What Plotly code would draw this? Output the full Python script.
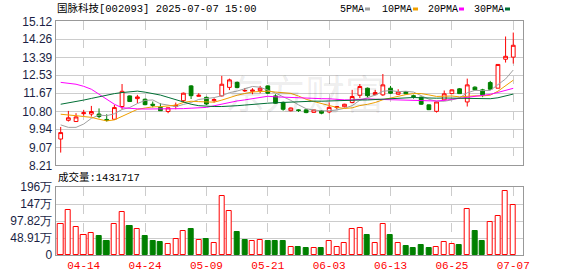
import plotly.graph_objects as go

# ---------------- data ----------------
dates = ["04-09", "04-10", "04-11", "04-14", "04-15", "04-16", "04-17", "04-18", "04-21", "04-22",
         "04-23", "04-24", "04-25", "04-28", "04-29", "04-30", "05-06", "05-07", "05-08", "05-09",
         "05-12", "05-13", "05-14", "05-15", "05-16", "05-19", "05-20", "05-21", "05-22", "05-23",
         "05-26", "05-27", "05-28", "05-29", "05-30", "06-03", "06-04", "06-05", "06-06", "06-09",
         "06-10", "06-11", "06-12", "06-13", "06-16", "06-17", "06-18", "06-19", "06-20", "06-23",
         "06-24", "06-25", "06-26", "06-27", "06-30", "07-01", "07-02", "07-03", "07-04", "07-07"]

opens = [9.47, 10.37, 10.31, 10.69, 10.67, 10.67, 10.41, 10.42, 11.03, 11.54,
         11.41, 11.38, 11.14, 10.99, 10.79, 11.03, 11.31, 12.02, 11.52, 11.47,
         11.31, 11.54, 11.95, 12.19, 11.78, 11.76, 11.79, 12.02, 11.54, 11.23,
         10.83, 10.87, 10.87, 10.75, 10.82, 10.77, 10.98, 11.02, 11.22, 11.57,
         11.91, 11.60, 11.59, 11.91, 11.62, 11.75, 11.55, 11.48, 11.11, 10.80,
         11.35, 11.65, 11.88, 11.25, 11.96, 11.83, 12.18, 11.91, 13.30, 13.40]
highs = [10.05, 10.82, 10.71, 10.87, 11.06, 10.94, 10.66, 11.11, 12.11, 11.56,
         11.59, 11.41, 11.27, 11.19, 10.97, 11.22, 11.70, 12.06, 11.67, 11.51,
         11.43, 12.50, 12.37, 12.23, 11.92, 11.91, 12.02, 12.05, 11.62, 11.27,
         10.98, 10.90, 10.91, 10.88, 10.85, 11.23, 11.05, 11.16, 11.83, 12.11,
         11.94, 11.83, 12.59, 12.02, 11.86, 11.77, 11.60, 11.51, 11.13, 11.28,
         11.80, 11.85, 11.92, 12.37, 12.00, 11.88, 12.26, 13.05, 14.39, 14.58]
lows = [8.82, 10.31, 10.30, 10.59, 10.55, 10.47, 10.31, 10.39, 10.90, 11.25,
        11.19, 11.09, 10.99, 10.82, 10.71, 10.90, 11.22, 11.39, 11.51, 11.10,
        11.22, 11.51, 11.82, 11.91, 11.73, 11.62, 11.67, 11.63, 11.17, 10.83,
        10.80, 10.77, 10.71, 10.74, 10.66, 10.71, 10.90, 10.99, 11.19, 11.44,
        11.46, 11.60, 11.54, 11.63, 11.60, 11.62, 11.41, 11.11, 10.86, 10.74,
        11.32, 11.64, 11.65, 11.03, 11.80, 11.48, 11.86, 11.91, 13.14, 13.09]
closes = [9.78, 10.49, 10.53, 10.73, 10.79, 10.55, 10.36, 10.98, 11.76, 11.27,
          11.49, 11.12, 11.09, 10.83, 10.97, 11.09, 11.67, 11.55, 11.57, 11.15,
          11.36, 12.10, 12.31, 11.94, 11.80, 11.82, 11.91, 11.67, 11.19, 10.90,
          10.96, 10.84, 10.74, 10.87, 10.71, 10.99, 11.02, 11.14, 11.51, 11.99,
          11.55, 11.70, 12.07, 11.67, 11.73, 11.64, 11.51, 11.14, 10.88, 11.25,
          11.64, 11.83, 11.65, 12.07, 11.83, 11.59, 11.86, 13.05, 13.44, 13.97]
volumes_wan = [88, 128.5, 81.5, 56.6, 62, 53.7, 39.3, 88, 122.8, 82.5,
               73.8, 53.7, 39.3, 36.4, 30.7, 45, 68, 73.8, 42.2, 45,
               33.6, 168.8, 125.6, 65.2, 42.2, 39.3, 42.2, 39.3, 39.3, 39.3,
               22, 22, 19.2, 19.2, 19.2, 39.3, 22, 33.6, 73.8, 76.7,
               56.6, 33.6, 88, 56.6, 33.6, 25, 19.2, 27.8, 19.2, 22,
               36.4, 30.7, 27.8, 131.4, 68, 39.3, 94, 111.2, 183.2, 143.1717]

# moving-average values before the window is full
ma5_head = [10.15, 10.03, 10.03, 10.19]
ma10_head = [10.66, 10.64, 10.59, 10.55, 10.51, 10.42, 10.34, 10.39, 10.57]
ma20_head = [12.19, 12.15, 12.10, 12.00, 11.86, 11.62, 11.38, 11.14, 10.97, 10.93,
             10.92, 10.91, 10.91, 10.90, 10.90, 10.91, 10.93, 10.95, 10.97]
ma30_head = [11.14, 11.20, 11.26, 11.34, 11.42, 11.50, 11.59, 11.65, 11.70, 11.74,
             11.77, 11.72, 11.65, 11.58, 11.47, 11.35, 11.25, 11.14, 11.07, 11.04,
             11.03, 11.03, 11.04, 11.07, 11.10, 11.14, 11.17, 11.19, 11.21]

price_ticks = [8.21, 9.07, 9.94, 10.80, 11.67, 12.53, 13.39, 14.26, 15.12]
price_tick_text = ["8.21", "9.07", "9.94", "10.80", "11.67", "12.53", "13.39", "14.26", "15.12"]
vol_ticks = [0, 48.91, 97.82, 146.73, 195.64]
vol_tick_text = ["0", "48.91万", "97.82万", "147万", "196万"]
date_ticks = ["04-14", "04-24", "05-09", "05-21", "06-03", "06-13", "06-25", "07-07"]

title_text = "国脉科技[002093] 2025-07-07 15:00"
volume_title = "成交量:1431717"
ma_names = ["5PMA", "10PMA", "20PMA", "30PMA"]
ma_colors = ["#a0a0a0", "#f0a000", "#ff00ff", "#006f35"]


def moving_average(n, head):
    vals = list(head)
    for i in range(len(head), len(closes)):
        window = closes[i - n + 1:i + 1]
        vals.append(sum(window) / n)
    return vals


ma_series = [moving_average(5, ma5_head), moving_average(10, ma10_head),
             moving_average(20, ma20_head), moving_average(30, ma30_head)]

# ---------------- figure ----------------
W, H = 578, 276
RED, GREEN = "#ff0000", "#008000"
GRID, FRAME = "#cccccc", "#999999"

fig = go.Figure()
fig.add_trace(go.Candlestick(
    x=dates, open=opens, high=highs, low=lows, close=closes,
    increasing=dict(line=dict(color=RED, width=1), fillcolor="#ffffff"),
    decreasing=dict(line=dict(color=GREEN, width=1), fillcolor=GREEN),
    whiskerwidth=0, xaxis="x", yaxis="y", showlegend=False, hoverinfo="skip"))

for vals, col in zip(ma_series, ma_colors):
    fig.add_trace(go.Scatter(x=dates, y=vals, mode="lines", line=dict(color=col, width=1),
                             xaxis="x", yaxis="y", showlegend=False, hoverinfo="skip"))

fills, outlines = [], []
for i, c in enumerate(closes):
    up = i == 0 or c >= closes[i - 1]
    fills.append("#ffffff" if up else GREEN)
    outlines.append(RED if up else GREEN)
fig.add_trace(go.Bar(x=dates, y=volumes_wan, width=0.66,
                     marker=dict(color=fills, line=dict(color=outlines, width=1)),
                     xaxis="x2", yaxis="y2", showlegend=False, hoverinfo="skip"))

x0, x1 = 55.7, 522.7
xdom = [x0 / W, x1 / W]
xrange = [-0.65, 60.23]
tickfont = dict(family="Liberation Sans, Arial", size=12, color="#1b1f45")

common_x = dict(domain=xdom, range=xrange, type="category", showgrid=True, gridcolor=GRID,
                griddash="dash", gridwidth=1, tickvals=date_ticks, ticks="",
                showline=True, mirror=True, linecolor=FRAME, linewidth=1, zeroline=False,
                fixedrange=True, automargin=False)

fig.update_layout(
    template="none",
    width=W, height=H, margin=dict(l=0, r=0, t=0, b=0, pad=0), autosize=False,
    paper_bgcolor="#ffffff", plot_bgcolor="#ffffff", bargap=0, showlegend=False,
    xaxis=dict(**common_x, anchor="y", showticklabels=False, rangeslider=dict(visible=False)),
    yaxis=dict(domain=[1 - 165.3 / H, 1 - 21.3 / H], range=[price_ticks[0], price_ticks[-1]],
               tickvals=price_ticks, ticktext=price_tick_text, tickfont=tickfont,
               showgrid=True, gridcolor=GRID, gridwidth=1, showline=True, mirror=True,
               linecolor=FRAME, linewidth=1, zeroline=False, anchor="x", ticks="",
               automargin=False),
    xaxis2=dict(**common_x, anchor="y2", matches="x", showticklabels=True,
                tickfont=dict(family="Liberation Mono, monospace", size=11, color=RED)),
    yaxis2=dict(domain=[1 - 255 / H, 1 - 187 / H], range=[0, vol_ticks[-1]],
                tickvals=vol_ticks, ticktext=vol_tick_text, tickfont=tickfont,
                showgrid=True, gridcolor=GRID, gridwidth=1, showline=True, mirror=True,
                linecolor=FRAME, linewidth=1, zeroline=False, anchor="x2", ticks="",
                automargin=False),
)

ann_font = dict(family="Liberation Mono, Noto Sans CJK SC", size=10.5, color="#000000")
annotations = [
    dict(text=title_text, x=55 / W, y=1 - 8.5 / H, xref="paper", yref="paper",
         xanchor="left", yanchor="middle", showarrow=False, font=ann_font),
    dict(text=volume_title, x=56 / W, y=1 - 177.5 / H, xref="paper", yref="paper",
         xanchor="left", yanchor="middle", showarrow=False, font=ann_font),
    dict(text="东方财富", x=305 / W, y=1 - 92 / H, xref="paper", yref="paper",
         xanchor="center", yanchor="middle", showarrow=False,
         font=dict(family="Noto Sans CJK SC", size=40, color="rgba(0,0,0,0.08)")),
]
shapes = []
leg_x = [338, 380, 426, 472]
for name, col, lx in zip(ma_names, ma_colors, leg_x):
    annotations.append(dict(text=name, x=lx / W, y=1 - 9 / H, xref="paper", yref="paper",
                            xanchor="left", yanchor="middle", showarrow=False,
                            font=dict(family="Liberation Mono, monospace", size=10, color="#000")))
    sx = lx + len(name) * 6 + 3
    shapes.append(dict(type="rect", xref="paper", yref="paper", x0=sx / W, x1=(sx + 5) / W,
                       y0=1 - 10.5 / H, y1=1 - 7.5 / H, fillcolor=col, line=dict(width=0)))
fig.update_layout(annotations=annotations, shapes=shapes)

fig.write_html("out.html", config={"displayModeBar": False})
